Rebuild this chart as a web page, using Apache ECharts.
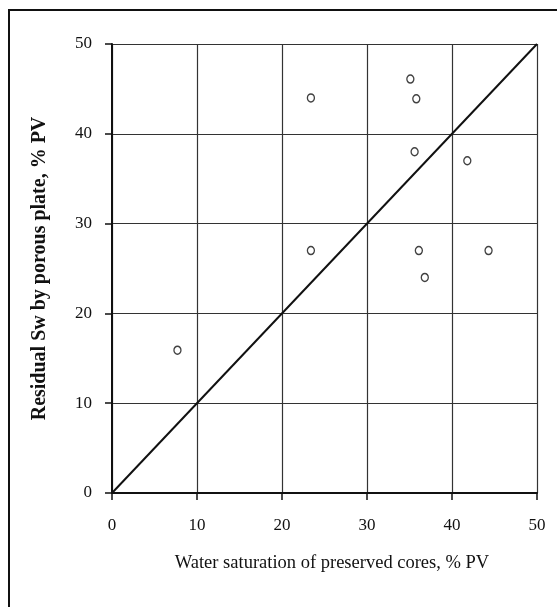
<!DOCTYPE html>
<html><head><meta charset="utf-8">
<script src="https://cdn.jsdelivr.net/npm/echarts@6/dist/echarts.min.js"></script>
<style>html,body{margin:0;padding:0;background:#fff}#c{width:557px;height:607px}</style>
</head><body><div id="c"></div>
<script>
var preservedSw = [23.4, 35.1, 35.8, 35.6, 41.8, 23.4, 36.1, 44.3, 36.8, 7.7];
var porousPlateSw = [44.0, 46.1, 43.9, 38.0, 37.0, 27.0, 27.0, 27.0, 24.0, 15.9];
var equalityX = [0, 50];
var equalityY = [0, 50];
var xTitle = 'Water saturation of preserved cores, % PV';
var yTitle = 'Residual Sw by porous plate, % PV';

var pts = preservedSw.map(function (v, i) { return [v, porousPlateSw[i]]; });
var diag = equalityX.map(function (v, i) { return [v, equalityY[i]]; });
var serif = '"Liberation Serif", "DejaVu Serif", serif';

var chart = echarts.init(document.getElementById('c'), null, {renderer: 'canvas'});
chart.setOption({
  animation: false,
  backgroundColor: '#fff',
  grid: {left: 112, right: 20, top: 44, bottom: 114},
  graphic: [
    {type: 'rect', shape: {x: 9, y: 10, width: 600, height: 650}, style: {fill: 'none', stroke: '#111', lineWidth: 2}, z: -1}
  ],
  xAxis: {
    type: 'value', min: 0, max: 50, interval: 10,
    name: xTitle, nameLocation: 'middle', nameGap: 61,
    nameTextStyle: {fontFamily: serif, fontSize: 18.5, color: '#111', padding: [0, 0, 0, 15]},
    axisLine: {show: true, lineStyle: {color: '#111', width: 2}},
    axisTick: {show: true, inside: false, length: 7, lineStyle: {color: '#111', width: 1.5}},
    axisLabel: {fontFamily: serif, fontSize: 17, color: '#111', margin: 24},
    splitLine: {show: true, lineStyle: {color: '#333', width: 1.2}}
  },
  yAxis: {
    type: 'value', min: 0, max: 50, interval: 10,
    name: yTitle, nameLocation: 'middle', nameGap: 62, nameRotate: 90,
    nameTextStyle: {fontFamily: serif, fontSize: 20, fontWeight: 'bold', color: '#111'},
    axisLine: {show: true, lineStyle: {color: '#111', width: 2}},
    axisTick: {show: true, inside: false, length: 7, lineStyle: {color: '#111', width: 1.5}},
    axisLabel: {fontFamily: serif, fontSize: 17, color: '#111', margin: 20},
    splitLine: {show: true, lineStyle: {color: '#333', width: 1.2}}
  },
  series: [
    {type: 'line', data: diag, symbol: 'none', lineStyle: {color: '#111', width: 2}, z: 3},
    {type: 'scatter', data: pts, symbol: 'circle', symbolSize: [7, 8],
     itemStyle: {color: '#fff', borderColor: '#111', borderWidth: 1.4}, z: 4}
  ]
});
</script></body></html>
